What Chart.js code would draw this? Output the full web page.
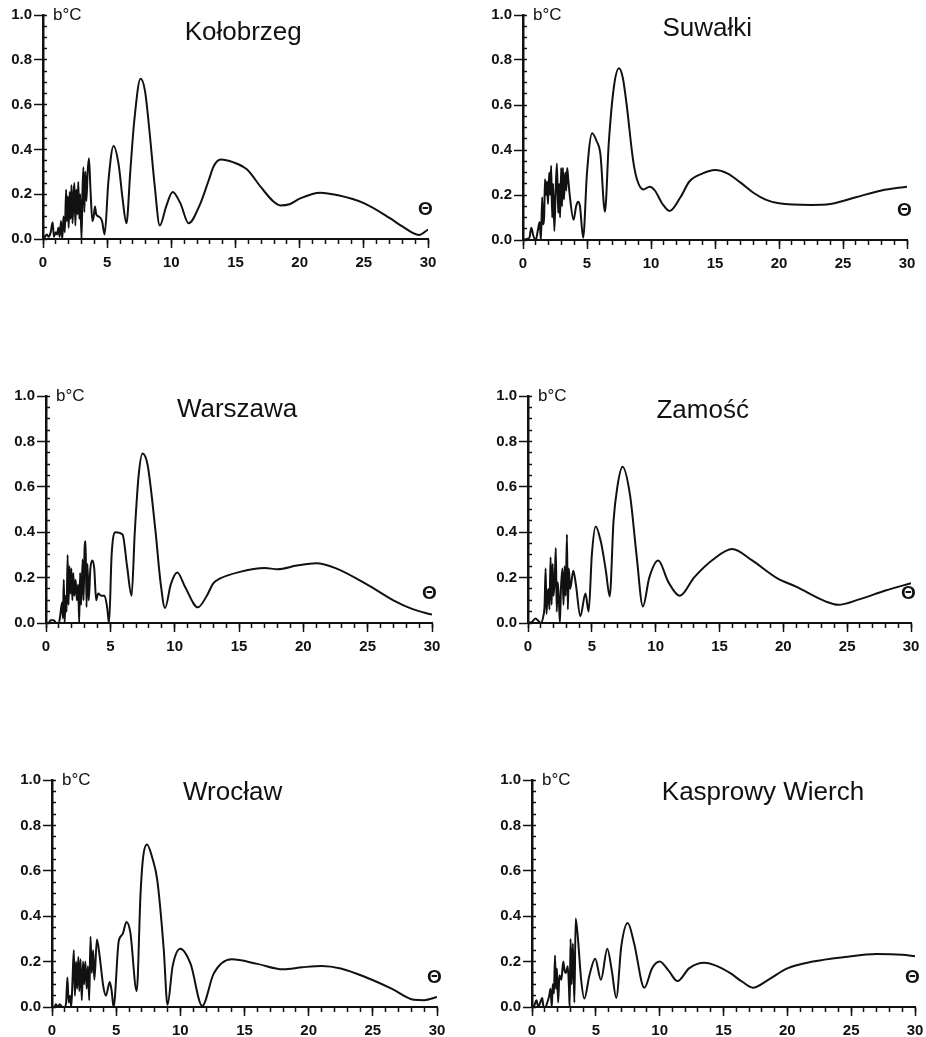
<!DOCTYPE html>
<html>
<head>
<meta charset="utf-8">
<script src="https://cdn.jsdelivr.net/npm/chart.js@4.4.1/dist/chart.umd.min.js"></script>
<style>
  body { margin: 0; background: #fff; width: 926px; height: 1037px; position: relative; overflow: hidden; }
  canvas { position: absolute; }
</style>
</head>
<body>
<canvas id="c0"></canvas>
<canvas id="c1"></canvas>
<canvas id="c2"></canvas>
<canvas id="c3"></canvas>
<canvas id="c4"></canvas>
<canvas id="c5"></canvas>
<script>
// station names and axis ticks
const stations = ['Kołobrzeg', 'Suwałki', 'Warszawa', 'Zamość', 'Wrocław', 'Kasprowy Wierch']
const xTicks = [0, 5, 10, 15, 20, 25, 30]
const yTicks = [0, 0.2, 0.4, 0.6, 0.8, 1.0]
const unitLabel = 'b°C'
const periodSymbol = 'Θ'

// amplitude b (°C) against period: [period, b]
const kolobrzeg = [[0,0],[0.15,0.01],[0.3,0.02],[0.45,0.01],[0.6,0.03],[0.75,0.075],[0.85,0.01],[1.0,0.03],[1.1,0.02],[1.2,0.05],[1.3,0.01],[1.4,0.08],[1.5,0.0],[1.6,0.1],[1.7,0.03],[1.8,0.22],[1.86,0.08],[1.93,0.19],[2.0,0.05],[2.08,0.21],[2.15,0.09],[2.22,0.24],[2.3,0.07],[2.38,0.2],[2.45,0.25],[2.52,0.06],[2.6,0.22],[2.68,0.11],[2.75,0.255],[2.83,0.09],[2.9,0.2],[3.0,0.0],[3.08,0.22],[3.15,0.32],[3.22,0.12],[3.3,0.3],[3.38,0.17],[3.48,0.3],[3.58,0.36],[3.7,0.22],[3.85,0.08],[3.95,0.1],[4.05,0.145],[4.15,0.11],[4.35,0.1],[4.6,0.08],[4.8,0.02],[5.1,0.26],[5.5,0.415],[5.9,0.33],[6.2,0.18],[6.5,0.07],[6.8,0.3],[7.1,0.52],[7.6,0.715],[7.95,0.66],[8.3,0.48],[8.7,0.24],[9.1,0.06],[9.6,0.146],[10.1,0.21],[10.7,0.16],[11.35,0.07],[12.2,0.15],[12.9,0.26],[13.3,0.325],[13.85,0.355],[14.8,0.343],[15.9,0.31],[17.0,0.23],[18.0,0.165],[18.5,0.15],[19.2,0.155],[20.0,0.18],[21.6,0.207],[23.0,0.195],[25.0,0.16],[27.0,0.094],[28.0,0.056],[29.3,0.018],[30,0.042]]
const suwalki = [[0,0],[0.3,0.005],[0.5,0.01],[0.65,0.055],[0.8,0.02],[1.0,0.0],[1.15,0.04],[1.3,0.08],[1.4,0.0],[1.5,0.19],[1.55,0.07],[1.65,0.1],[1.72,0.27],[1.8,0.2],[1.88,0.26],[1.95,0.16],[2.05,0.3],[2.12,0.2],[2.2,0.33],[2.28,0.1],[2.35,0.25],[2.45,0.04],[2.55,0.22],[2.65,0.34],[2.75,0.12],[2.82,0.25],[2.9,0.1],[2.98,0.32],[3.05,0.15],[3.12,0.32],[3.2,0.18],[3.3,0.3],[3.38,0.22],[3.45,0.32],[3.52,0.28],[3.65,0.2],[3.95,0.09],[4.15,0.15],[4.3,0.17],[4.45,0.15],[4.7,0.01],[5.0,0.3],[5.4,0.475],[5.75,0.44],[6.05,0.38],[6.4,0.126],[6.7,0.43],[7.1,0.68],[7.5,0.763],[7.8,0.72],[8.1,0.6],[8.6,0.355],[8.9,0.27],[9.4,0.225],[9.9,0.237],[10.3,0.22],[10.9,0.16],[11.45,0.129],[12.3,0.19],[13.0,0.26],[14.0,0.295],[15.0,0.311],[16.0,0.295],[17.0,0.255],[18.0,0.21],[19.0,0.178],[20.0,0.163],[22.5,0.156],[24.0,0.16],[26.0,0.19],[28.0,0.22],[30,0.237]]
const warszawa = [[0,0],[0.2,0.0],[0.35,0.012],[0.6,0.012],[0.8,0.0],[1.0,0.0],[1.1,0.03],[1.25,0.09],[1.32,0.02],[1.38,0.19],[1.45,0.0],[1.52,0.12],[1.6,0.05],[1.68,0.3],[1.75,0.08],[1.82,0.25],[1.9,0.13],[1.97,0.24],[2.05,0.1],[2.12,0.22],[2.2,0.12],[2.3,0.19],[2.4,0.1],[2.5,0.17],[2.58,0.0],[2.65,0.22],[2.73,0.08],[2.85,0.28],[2.92,0.1],[3.0,0.33],[3.08,0.36],[3.15,0.07],[3.22,0.26],[3.32,0.1],[3.45,0.24],[3.6,0.275],[3.75,0.24],[3.9,0.1],[4.05,0.13],[4.3,0.12],[4.55,0.12],[4.75,0.07],[4.9,0.0],[5.1,0.3],[5.4,0.4],[5.95,0.39],[6.3,0.25],[6.65,0.12],[6.9,0.4],[7.2,0.65],[7.5,0.747],[7.9,0.695],[8.5,0.41],[8.9,0.18],[9.25,0.066],[9.7,0.17],[10.2,0.222],[10.8,0.16],[11.8,0.069],[12.5,0.12],[13.0,0.175],[13.5,0.195],[15.0,0.224],[17.0,0.242],[18.0,0.237],[19.5,0.253],[21.0,0.263],[22.5,0.242],[25.0,0.168],[27.0,0.1],[28.5,0.061],[30,0.037]]
const zamosc = [[0,0],[0.3,0.005],[0.6,0.02],[0.8,0.01],[1.0,0.0],[1.2,0.03],[1.3,0.08],[1.38,0.24],[1.45,0.04],[1.52,0.12],[1.6,0.15],[1.68,0.06],[1.77,0.29],[1.85,0.08],[1.93,0.26],[2.0,0.12],[2.1,0.2],[2.18,0.33],[2.25,0.05],[2.33,0.18],[2.42,0.1],[2.5,0.0],[2.58,0.15],[2.7,0.24],[2.78,0.08],[2.87,0.25],[2.95,0.12],[3.05,0.39],[3.12,0.06],[3.2,0.24],[3.3,0.15],[3.55,0.23],[3.75,0.17],[4.1,0.03],[4.5,0.13],[4.75,0.05],[5.0,0.3],[5.3,0.425],[5.7,0.36],[5.9,0.3],[6.1,0.23],[6.4,0.117],[6.7,0.45],[7.0,0.6],[7.4,0.688],[8.0,0.56],[8.5,0.3],[9.0,0.073],[9.5,0.2],[10.2,0.275],[11.0,0.18],[11.9,0.12],[13.0,0.2],[14.5,0.28],[16.0,0.326],[17.5,0.278],[19.5,0.198],[21.0,0.16],[23.3,0.095],[24.3,0.08],[26.0,0.105],[28.0,0.143],[30,0.175]]
const wroclaw = [[0,0],[0.2,0.0],[0.3,0.012],[0.45,0.0],[0.6,0.012],[0.8,0.0],[1.0,0.0],[1.1,0.02],[1.2,0.13],[1.3,0.02],[1.42,0.05],[1.5,0.0],[1.6,0.12],[1.7,0.25],[1.78,0.05],[1.88,0.2],[1.96,0.08],[2.05,0.22],[2.13,0.07],[2.22,0.21],[2.32,0.03],[2.42,0.2],[2.5,0.1],[2.6,0.2],[2.7,0.08],[2.8,0.18],[2.9,0.03],[3.0,0.31],[3.1,0.15],[3.2,0.25],[3.3,0.12],[3.5,0.297],[3.7,0.23],[4.0,0.09],[4.2,0.05],[4.5,0.11],[4.65,0.07],[4.8,0.0],[5.2,0.29],[5.5,0.32],[5.8,0.375],[6.1,0.33],[6.6,0.07],[6.9,0.5],[7.1,0.66],[7.4,0.716],[7.8,0.66],[8.2,0.56],[8.7,0.26],[9.0,0.01],[9.4,0.18],[10.0,0.257],[10.8,0.19],[11.7,0.005],[12.6,0.147],[14.0,0.21],[16.0,0.19],[18.0,0.166],[19.5,0.175],[21.0,0.181],[22.5,0.17],[24.5,0.13],[26.5,0.08],[28.2,0.032],[29.0,0.03],[30,0.044]]
const kasprowy = [[0,0],[0.2,0.01],[0.35,0.03],[0.5,0.0],[0.65,0.02],[0.8,0.04],[0.9,0.0],[1.05,0.0],[1.2,0.02],[1.35,0.05],[1.45,0.08],[1.55,0.0],[1.62,0.1],[1.72,0.06],[1.8,0.227],[1.88,0.08],[1.95,0.17],[2.05,0.02],[2.15,0.14],[2.3,0.12],[2.45,0.2],[2.55,0.16],[2.65,0.15],[2.8,0.18],[2.9,0.08],[2.95,0.0],[3.02,0.3],[3.1,0.1],[3.2,0.28],[3.32,0.02],[3.42,0.39],[3.6,0.3],[3.85,0.12],[4.1,0.037],[4.5,0.14],[4.95,0.213],[5.4,0.12],[5.9,0.257],[6.25,0.16],[6.6,0.04],[7.0,0.27],[7.5,0.37],[8.0,0.28],[8.8,0.085],[9.4,0.17],[10.0,0.2],[10.7,0.16],[11.4,0.114],[12.3,0.17],[13.5,0.195],[14.5,0.18],[15.5,0.15],[16.5,0.11],[17.3,0.085],[18.5,0.12],[20.0,0.17],[22.0,0.2],[24.5,0.22],[27.0,0.233],[29.0,0.23],[30,0.224]]

const series = [kolobrzeg, suwalki, warszawa, zamosc, wroclaw, kasprowy]

// page layout: plot area [left, top, right, bottom] and title placement
const panels = [
  { area: [43, 15, 428, 239],   titleX: 0.52,  titleY: 18 },
  { area: [523, 15, 907, 240],  titleX: 0.48,  titleY: 14 },
  { area: [46, 396, 432, 623],  titleX: 0.495, titleY: 14 },
  { area: [528, 396, 911, 623], titleX: 0.456, titleY: 15 },
  { area: [52, 780, 437, 1007], titleX: 0.469, titleY: 13 },
  { area: [532, 780, 915, 1007],titleX: 0.603, titleY: 13 },
]

const FONT = '"Liberation Sans", Arial, Helvetica, sans-serif'
const INK = '#111'
const Y_AXIS_W = 42
const X_AXIS_H = 38
const PAD_TOP = 15
const PAD_RIGHT = 22

const panelText = {
  id: 'panelText',
  afterDraw(chart, args, opts) {
    const { ctx, chartArea: a, scales } = chart
    ctx.save()
    ctx.fillStyle = INK
    ctx.textBaseline = 'middle'
    ctx.textAlign = 'center'
    ctx.font = '26px ' + FONT
    ctx.fillText(opts.title, a.left + opts.titleX * (a.right - a.left), a.top + opts.titleY)
    ctx.textAlign = 'left'
    ctx.font = '17px ' + FONT
    ctx.fillText(unitLabel, a.left + 10, a.top)
    ctx.textAlign = 'center'
    ctx.font = 'bold 19px ' + FONT
    ctx.fillText(periodSymbol, scales.x.getPixelForValue(29.8), scales.y.getPixelForValue(0.13))
    ctx.restore()
  }
}

function drawPanel(i) {
  const p = panels[i]
  const [L, T, R, B] = p.area
  const canvas = document.getElementById('c' + i)
  canvas.width = (R - L) + Y_AXIS_W + PAD_RIGHT
  canvas.height = (B - T) + PAD_TOP + X_AXIS_H
  canvas.style.left = (L - Y_AXIS_W) + 'px'
  canvas.style.top = (T - PAD_TOP) + 'px'

  new Chart(canvas.getContext('2d'), {
    type: 'line',
    data: {
      datasets: [{
        data: series[i].map(d => ({ x: d[0], y: d[1] })),
        xAxisID: 'x',
        yAxisID: 'y',
        borderColor: INK,
        borderWidth: 2,
        pointRadius: 0,
        fill: false,
        cubicInterpolationMode: 'monotone',
      }],
    },
    options: {
      responsive: false,
      animation: false,
      events: [],
      layout: { padding: { left: 0, top: PAD_TOP, right: PAD_RIGHT, bottom: 0 } },
      plugins: {
        legend: { display: false },
        tooltip: { enabled: false },
        panelText: { title: stations[i], titleX: p.titleX, titleY: p.titleY },
      },
      scales: {
        x: {
          type: 'linear', position: 'bottom', min: 0, max: 30, weight: 1,
          afterBuildTicks: axis => { axis.ticks = xTicks.map(v => ({ value: v })) },
          afterFit: axis => { axis.height = X_AXIS_H },
          ticks: { color: INK, font: { family: FONT, size: 15, weight: 'bold' }, padding: 6, maxRotation: 0, autoSkip: false },
          grid: { drawOnChartArea: false, tickLength: 9, tickWidth: 1.5, tickColor: INK },
          border: { color: INK, width: 2 },
        },
        xm: {
          type: 'linear', axis: 'x', position: 'bottom', min: 0, max: 30, weight: 0,
          afterFit: axis => { axis.height = 0 },
          ticks: { display: false, stepSize: 1 },
          grid: { drawOnChartArea: false, tickLength: 5, tickWidth: 1.5, tickColor: INK },
          border: { display: false },
        },
        y: {
          type: 'linear', position: 'left', min: 0, max: 1, weight: 1,
          afterBuildTicks: axis => { axis.ticks = yTicks.map(v => ({ value: v })) },
          afterFit: axis => { axis.width = Y_AXIS_W },
          ticks: { color: INK, font: { family: FONT, size: 15, weight: 'bold' }, padding: 2, callback: v => v.toFixed(1) },
          grid: { drawOnChartArea: false, tickLength: 9, tickWidth: 1.5, tickColor: INK },
          border: { color: INK, width: 2.5 },
        },
        ym: {
          type: 'linear', axis: 'y', position: 'left', min: 0, max: 1, weight: 0,
          afterFit: axis => { axis.width = 0 },
          ticks: { display: false, stepSize: 0.05 },
          grid: { drawOnChartArea: false, tickLength: -4, tickWidth: 1.5, tickColor: INK },
          border: { display: false },
        },
      },
    },
    plugins: [panelText],
  })
}

for (let i = 0; i < panels.length; i++) drawPanel(i)
</script>
</body>
</html>
